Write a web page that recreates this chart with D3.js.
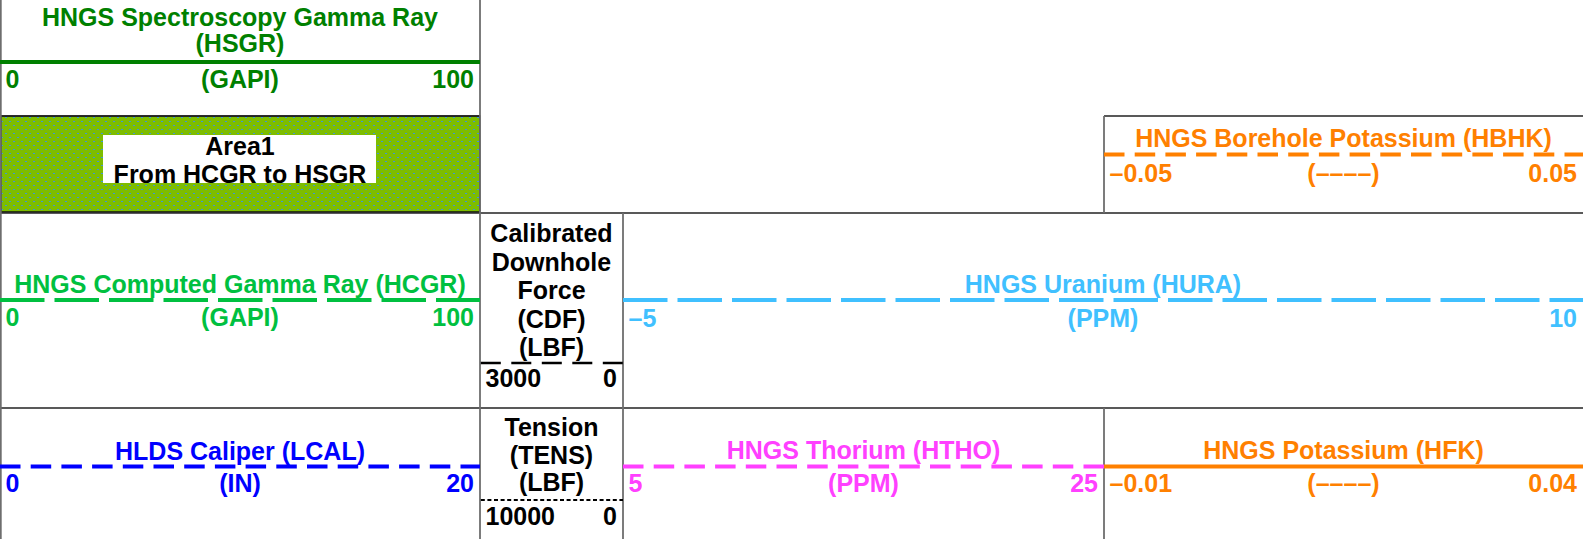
<!DOCTYPE html>
<html>
<head>
<meta charset="utf-8">
<script src="https://cdn.jsdelivr.net/npm/d3@7"></script>
<style>
  html, body { margin: 0; padding: 0; background: #fff; }
  svg { display: block; }
  text { font-family: "Liberation Sans", Arial, Helvetica, sans-serif; font-weight: bold; }
</style>
</head>
<body>
<svg id="chart" width="1583" height="539"></svg>
<script>
// ---------------- data ----------------
const curveNames = ["HNGS Spectroscopy Gamma Ray", "HNGS Computed Gamma Ray", "HLDS Caliper",
  "Calibrated Downhole Force", "Tension", "HNGS Uranium", "HNGS Thorium",
  "HNGS Borehole Potassium", "HNGS Potassium"];
const mnemonics = ["HSGR", "HCGR", "LCAL", "CDF", "TENS", "HURA", "HTHO", "HBHK", "HFK"];
const units = ["GAPI", "GAPI", "IN", "LBF", "LBF", "PPM", "PPM", "––––", "––––"];
const leftValues = [0, 0, 0, 3000, 10000, -5, 5, -0.05, -0.01];
const rightValues = [100, 100, 20, 0, 0, 10, 25, 0.05, 0.04];
const areaName = "Area1";
const areaFrom = "HCGR";
const areaTo = "HSGR";

// ---------------- styles ----------------
const colors = ["#008000", "#00c040", "#0000ff", "#000000", "#000000", "#40c0ff", "#ff40ff", "#ff8000", "#ff8000"];
const dashes = [null, "44.5,10", "20.5,10.2", "20,10.5", "4,2.6", "44.5,10", "20.5,10.2", "20.5,10.2", null];
const widths = [3.8, 4, 4, 2.5, 2, 4, 4, 4, 4];

// ---------------- layout ----------------
const W = 1583, H = 539;
const layout = [
  { x0: 0,    x1: 480,  lineY: 62,    titleYs: [26, 52], labelY: 88,  center: true },
  { x0: 0,    x1: 480,  lineY: 300,   titleYs: [293],    labelY: 326, center: true },
  { x0: 0,    x1: 480,  lineY: 466.5, titleYs: [459.5],  labelY: 492, center: true },
  { x0: 480,  x1: 623,  lineY: 363,   titleYs: [242, 270.5, 299, 327.5, 356], labelY: 387, center: false },
  { x0: 480,  x1: 623,  lineY: 500,   titleYs: [436, 463.5, 491], labelY: 525, center: false },
  { x0: 623,  x1: 1583, lineY: 300,   titleYs: [293],    labelY: 327, center: true },
  { x0: 623,  x1: 1104, lineY: 466.5, titleYs: [459],    labelY: 492, center: true },
  { x0: 1104, x1: 1583, lineY: 154.5, titleYs: [147],    labelY: 181.5, center: true },
  { x0: 1104, x1: 1583, lineY: 466.5, titleYs: [459],    labelY: 492, center: true }
];
const titleModes = ["twoLine", "oneLine", "oneLine", "words", "nameFirst", "oneLine", "oneLine", "oneLine", "oneLine"];
const FS = 25;

const svg = d3.select("#chart");
const defs = svg.append("defs");
const pat = defs.append("pattern").attr("id", "areaPat")
  .attr("patternUnits", "userSpaceOnUse").attr("width", 8).attr("height", 8);
pat.append("rect").attr("width", 8).attr("height", 8).attr("fill", "#7dbd00");
pat.append("rect").attr("x", 1).attr("y", 1).attr("width", 2).attr("height", 1).attr("fill", "#3f95d8");
pat.append("rect").attr("x", 5).attr("y", 5).attr("width", 2).attr("height", 1).attr("fill", "#3f95d8");

// Area fill box (between HCGR and HSGR)
svg.append("rect").attr("x", 0.75).attr("y", 116).attr("width", 479).attr("height", 96)
  .attr("fill", "url(#areaPat)").attr("stroke", "#111").attr("stroke-width", 1.5);
svg.append("rect").attr("x", 103).attr("y", 135).attr("width", 273).attr("height", 48).attr("fill", "#fff");
svg.append("text").attr("x", 240).attr("y", 155).attr("text-anchor", "middle")
  .attr("font-size", FS).attr("fill", "#000").text(areaName);
svg.append("text").attr("x", 240).attr("y", 183).attr("text-anchor", "middle")
  .attr("font-size", FS).attr("fill", "#000").text(`From ${areaFrom} to ${areaTo}`);

// Grid lines
const hLines = [[0, 480, 116], [1104, 1583, 116], [0, 1583, 213], [0, 1583, 408]];
svg.selectAll("line.h").data(hLines).join("line").attr("class", "h")
  .attr("x1", d => d[0]).attr("x2", d => d[1]).attr("y1", d => d[2]).attr("y2", d => d[2])
  .attr("stroke", "#222").attr("stroke-width", 1.5);
const vLines = [[0.8, 0, H], [480, 0, H], [623, 213, H], [1104, 116, 213], [1104, 408, H]];
svg.selectAll("line.v").data(vLines).join("line").attr("class", "v")
  .attr("x1", d => d[0]).attr("x2", d => d[0]).attr("y1", d => d[1]).attr("y2", d => d[2])
  .attr("stroke", "#6e6e6e").attr("stroke-width", 1.8);

const fmt = v => String(v).replace("-", "–");

function titleLines(i) {
  const n = curveNames[i], m = mnemonics[i], u = units[i];
  switch (titleModes[i]) {
    case "twoLine": return [n, `(${m})`];
    case "words": return [...n.split(" "), `(${m})`, `(${u})`];
    case "nameFirst": return [n, `(${m})`, `(${u})`];
    default: return [`${n} (${m})`];
  }
}

curveNames.forEach((name, i) => {
  const L = layout[i];
  const g = svg.append("g");
  const xs = d3.scaleLinear().domain([leftValues[i], rightValues[i]]).range([L.x0 + 5.5, L.x1 - 6]);
  const cx = (L.x0 + L.x1) / 2;

  // curve line sample across the track
  g.append("line")
    .attr("x1", L.x0 + (i === 3 || i === 4 ? 0.8 : 0)).attr("x2", L.x1)
    .attr("y1", L.lineY).attr("y2", L.lineY)
    .attr("stroke", colors[i]).attr("stroke-width", widths[i])
    .attr("stroke-dasharray", dashes[i]);

  // title
  titleLines(i).forEach((t, k) => {
    g.append("text").attr("x", cx).attr("y", L.titleYs[k]).attr("text-anchor", "middle")
      .attr("font-size", FS).attr("fill", colors[i]).text(t);
  });

  // scale labels
  g.append("text").attr("x", xs(leftValues[i])).attr("y", L.labelY).attr("text-anchor", "start")
    .attr("font-size", FS).attr("fill", colors[i]).text(fmt(leftValues[i]));
  g.append("text").attr("x", xs(rightValues[i])).attr("y", L.labelY).attr("text-anchor", "end")
    .attr("font-size", FS).attr("fill", colors[i]).text(fmt(rightValues[i]));
  if (L.center) {
    g.append("text").attr("x", cx).attr("y", L.labelY).attr("text-anchor", "middle")
      .attr("font-size", FS).attr("fill", colors[i]).text(`(${units[i]})`);
  }
});
</script>
</body>
</html>
